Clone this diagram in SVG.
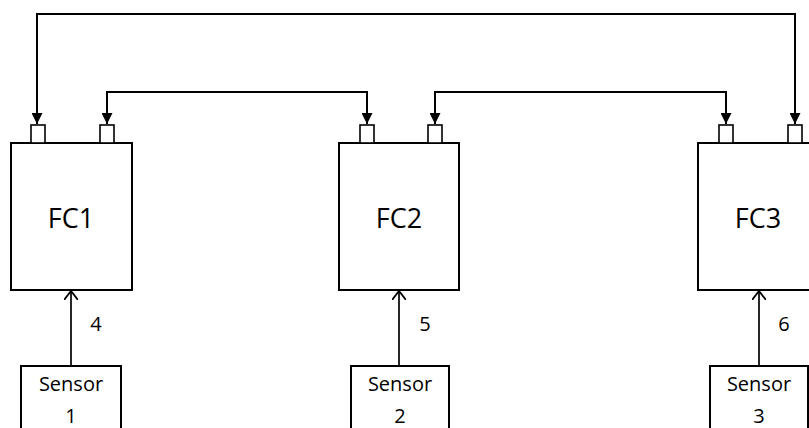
<svg xmlns="http://www.w3.org/2000/svg" width="809" height="428" viewBox="0 0 809 428">
<defs>
<style>
.box{fill:#fff;stroke:#000;stroke-width:2}
.port{fill:#fff;stroke:#000;stroke-width:1.6}
.wire{fill:none;stroke:#000;stroke-width:2}
.sw{fill:none;stroke:#000;stroke-width:1.7}
.big{font-family:"Open Sans","Liberation Sans",sans-serif;font-size:27px;text-anchor:middle;fill:#000}
.small{font-family:"Open Sans","Liberation Sans",sans-serif;font-size:20px;text-anchor:middle;fill:#000}
</style>
<marker id="tri" viewBox="0 0 10 10" refX="10" refY="5" markerWidth="11" markerHeight="11" markerUnits="userSpaceOnUse" orient="auto-start-reverse">
<path d="M0,0 L10,5 L0,10 Z" fill="#000"/>
</marker>
<marker id="open" viewBox="0 0 10 14" refX="9" refY="7" markerWidth="10" markerHeight="14" markerUnits="userSpaceOnUse" orient="auto">
<path d="M0,0 L9,7 L0,14" fill="none" stroke="#000" stroke-width="1.8"/>
</marker>
</defs>
<rect width="809" height="428" fill="#fff"/>
<g id="connectors">
<path class="wire" d="M37,124 L37,14 L795,14 L795,124" marker-start="url(#tri)" marker-end="url(#tri)"/>
<path class="wire" d="M107,124 L107,92 L367,92 L367,124" marker-start="url(#tri)" marker-end="url(#tri)"/>
<path class="wire" d="M435,124 L435,92 L726,92 L726,124" marker-start="url(#tri)" marker-end="url(#tri)"/>
<line class="sw" x1="71" y1="366" x2="71" y2="291" marker-end="url(#open)"/>
<line class="sw" x1="399" y1="366" x2="399" y2="291" marker-end="url(#open)"/>
<line class="sw" x1="759" y1="366" x2="759" y2="291" marker-end="url(#open)"/>
<text class="small" x="96" y="331">4</text>
<text class="small" x="425" y="331">5</text>
<text class="small" x="784" y="331">6</text>
</g>
<g id="fc1">
<rect class="box" x="11" y="143" width="121" height="147"/>
<rect class="port" x="31" y="125" width="14" height="18"/>
<rect class="port" x="100" y="125" width="14" height="18"/>
<text class="big" x="71" y="228">FC1</text>
</g>
<g id="fc2">
<rect class="box" x="339" y="143" width="120" height="147"/>
<rect class="port" x="360" y="125" width="14" height="18"/>
<rect class="port" x="428" y="125" width="14" height="18"/>
<text class="big" x="399" y="228">FC2</text>
</g>
<g id="fc3">
<rect class="box" x="698" y="143" width="121" height="147"/>
<rect class="port" x="719" y="125" width="14" height="18"/>
<rect class="port" x="788" y="125" width="14" height="18"/>
<text class="big" x="758" y="228">FC3</text>
</g>
<g id="sensor1">
<rect class="box" x="21" y="366" width="100" height="70"/>
<text class="small" x="71" y="391">Sensor</text>
<text class="small" x="71" y="423">1</text>
</g>
<g id="sensor2">
<rect class="box" x="351" y="366" width="98" height="70"/>
<text class="small" x="400" y="391">Sensor</text>
<text class="small" x="400" y="423">2</text>
</g>
<g id="sensor3">
<rect class="box" x="710" y="366" width="98" height="70"/>
<text class="small" x="759" y="391">Sensor</text>
<text class="small" x="759" y="423">3</text>
</g>
</svg>
